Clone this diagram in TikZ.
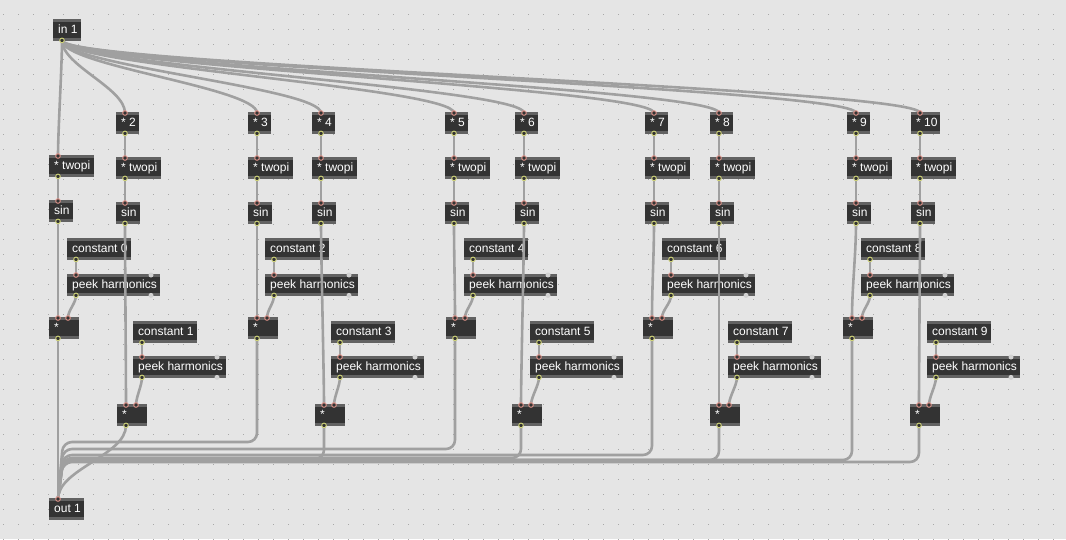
\documentclass[tikz,border=0pt]{standalone}
\usepackage{fontspec}
\setmainfont{Liberation Sans}
\usetikzlibrary{calc}
\definecolor{bg}{RGB}{229,229,229}
\definecolor{dotc}{RGB}{168,168,168}
\definecolor{body}{RGB}{51,51,51}
\definecolor{strip}{RGB}{98,98,98}
\definecolor{cordc}{RGB}{160,160,160}
\definecolor{inc}{RGB}{228,150,140}
\definecolor{outc}{RGB}{208,212,120}
\definecolor{unc}{RGB}{210,210,210}
\tikzset{
  obj/.style={anchor=north west, fill=body, text=white, inner xsep=5pt, inner ysep=0pt,
    minimum height=22pt, text height=9.5pt, text depth=2.5pt,
    font=\fontsize{12}{14}\selectfont,
    path picture={
      \fill[strip] (path picture bounding box.north west) rectangle ([yshift=-3pt]path picture bounding box.north east);
      \fill[strip] (path picture bounding box.south west) rectangle ([yshift=3pt]path picture bounding box.south east);}},
  cord/.style={draw=cordc, line width=2.6pt, line cap=round},
  inmk/.style={draw=inc, fill=body, line width=0.9pt},
  outmk/.style={draw=outc, fill=body, line width=0.9pt},
  unmk/.style={fill=unc},
}
% name, x, y, inner width (= box width - 10), text
\newcommand\mobj[5]{%
  \node[obj] (#1) at (#2,#3) {\makebox[#4pt][l]{#5}};
  \coordinate (#1-i) at ($(#1.north west)+(9,1)$);
  \coordinate (#1-o) at ($(#1.south west)+(9,-1)$);
  \coordinate (#1-r) at ($(#1.north west)+(19,1)$);
  \coordinate (#1-u) at ($(#1.north west)+(84,1)$);
  \coordinate (#1-v) at ($(#1.south west)+(84,-1)$);
}
\newcommand\cord[3][20]{\draw[cord] (#2) .. controls +(0,#1) and +(0,-#1) .. (#3);}
\begin{document}
\begin{tikzpicture}[x=1pt,y=-1pt]
\fill[bg] (0,0) rectangle (1066,539);
\useasboundingbox (0,0) rectangle (1066,539);
\foreach \i in {0,...,70}{\foreach \j in {0,...,35}{\fill[dotc] (3+15*\i,14+15*\j) rectangle +(1.1,1.1);}}
% objects
\mobj{in1}{53}{19}{18}{in 1}
\mobj{out1}{49}{498}{25}{out 1}
\mobj{tp1}{49}{155}{35}{* twopi}
\mobj{sn1}{49}{200}{14}{sin}
\foreach \k/\x/\w in {2/116/13,3/248/13,4/312/13,5/445/13,6/515/13,7/645/13,8/710/13,9/847/13,10/911/19}{
  \mobj{n\k}{\x}{112}{\w}{* \k}
  \mobj{tp\k}{\x}{157}{35}{* twopi}
  \mobj{sn\k}{\x}{202}{14}{sin}
}
\foreach \k/\x/\c/\cx in {1/49/0/67,3/248/2/265,5/446/4/464,7/643/6/662,9/843/8/861}{
  \mobj{m\k}{\x}{317}{20}{*}
  \mobj{c\c}{\cx}{238}{54}{constant \c}
  \mobj{p\c}{\cx}{274}{83}{peek harmonics}
}
\foreach \k/\x/\c/\cx in {2/117/1/133,4/315/3/331,6/512/5/530,8/710/7/728,10/910/9/927}{
  \mobj{m\k}{\x}{404}{20}{*}
  \mobj{c\c}{\cx}{321}{54}{constant \c}
  \mobj{p\c}{\cx}{356}{83}{peek harmonics}
}
% cords
\foreach \k/\l in {3/442,4/459,5/449,6/458,7/455,8/460,9/460,10/462}{
  \coordinate (b\k) at (63,\l);
  \draw[cord, rounded corners=9] (m\k-o) |- (b\k) -- (out1-i);
}
\cord[30]{m1-o}{out1-i}
\cord[30]{m2-o}{out1-i}
\cord[25]{in1-o}{tp1-i}
\foreach \k in {2,...,10}{\cord[25]{in1-o}{n\k-i}}
\foreach \k in {2,...,10}{\cord[8]{n\k-o}{tp\k-i}}
\foreach \k in {1,...,10}{\cord[8]{tp\k-o}{sn\k-i}}
\foreach \k in {1,...,10}{\cord[30]{sn\k-o}{m\k-i}}
\foreach \c/\k in {0/1,1/2,2/3,3/4,4/5,5/6,6/7,7/8,8/9,9/10}{
  \cord[5]{c\c-o}{p\c-i}
  \cord[8]{p\c-o}{m\k-r}
}
% inlet / outlet marks
\foreach \n in {tp1,tp2,tp3,tp4,tp5,tp6,tp7,tp8,tp9,tp10,sn1,sn2,sn3,sn4,sn5,sn6,sn7,sn8,sn9,sn10,
  n2,n3,n4,n5,n6,n7,n8,n9,n10,m1,m2,m3,m4,m5,m6,m7,m8,m9,m10,p0,p1,p2,p3,p4,p5,p6,p7,p8,p9,out1}{
  \draw[inmk] (\n-i) circle (2.3pt);}
\foreach \n in {m1,m2,m3,m4,m5,m6,m7,m8,m9,m10}{\draw[inmk] (\n-r) circle (2.3pt);}
\foreach \n in {p0,p1,p2,p3,p4,p5,p6,p7,p8,p9}{\fill[unmk] (\n-u) circle (2.5pt); \fill[unmk] (\n-v) circle (2.5pt);}
\foreach \n in {in1,tp1,tp2,tp3,tp4,tp5,tp6,tp7,tp8,tp9,tp10,sn1,sn2,sn3,sn4,sn5,sn6,sn7,sn8,sn9,sn10,
  n2,n3,n4,n5,n6,n7,n8,n9,n10,m1,m2,m3,m4,m5,m6,m7,m8,m9,m10,p0,p1,p2,p3,p4,p5,p6,p7,p8,p9,
  c0,c1,c2,c3,c4,c5,c6,c7,c8,c9}{
  \draw[outmk] (\n-o) circle (2.3pt);}
\end{tikzpicture}
\end{document}
